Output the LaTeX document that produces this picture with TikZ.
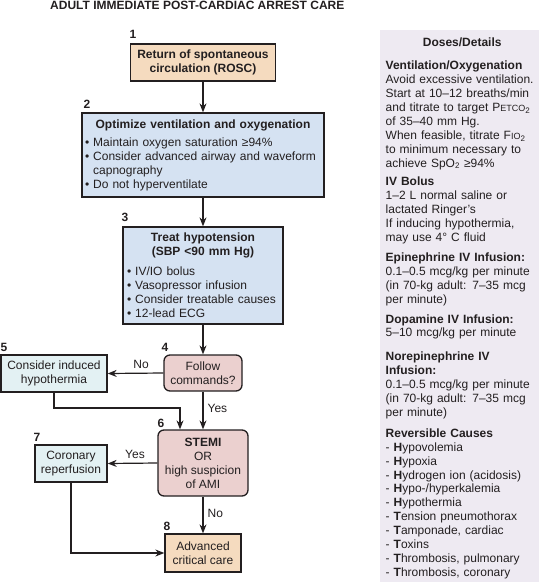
\documentclass[tikz,border=0pt]{standalone}
\usepackage{fontspec}
\setmainfont{Liberation Sans}
\usetikzlibrary{arrows.meta}
\definecolor{tanc}{HTML}{F5DBBF}
\definecolor{bluec}{HTML}{D5E2F2}
\definecolor{pinkc}{HTML}{EBD0CF}
\definecolor{cyanc}{HTML}{E3F1F3}
\definecolor{panelc}{HTML}{EEEAF2}
\definecolor{linec}{HTML}{231F20}
\newcommand{\smcap}[1]{{\fontsize{9}{9}\selectfont #1}}
\newcommand{\bul}{\textbullet~}
\newcommand{\bulsp}{\phantom{\textbullet~}}
\hyphenpenalty=10000
\exhyphenpenalty=10000
\begin{document}
\begin{tikzpicture}[x=1pt,y=-1pt,
  every node/.style={font=\fontsize{12}{14}\selectfont, text=linec},
  box/.style={draw=linec, line width=1.3pt, inner sep=0pt, align=center},
  rbox/.style={box, rounded corners=6pt},
  arr/.style={draw=linec, line width=1.2pt, -{Stealth[length=9pt,width=7pt]}},
  num/.style={font=\fontsize{12}{14}\selectfont\bfseries, inner sep=0pt},
  lbl/.style={inner sep=0pt}]
\useasboundingbox (0,0) rectangle (539,582);

% title
\node[font=\fontsize{12}{14}\selectfont\bfseries, anchor=north west, inner sep=0pt] (title) at (50,1) {ADULT IMMEDIATE POST-CARDIAC ARREST CARE};

% right panel
\node[fill=panelc, anchor=north west, minimum width=159, minimum height=552, inner sep=0pt] (panel) at (380,30) {};
\node[anchor=north west, inner sep=0pt, text width=153, align=left,
      font=\fontsize{12}{13.9}\selectfont] (details) at (385.5,38) {%
\lineskiplimit=-20pt
{\centering\bfseries Doses/Details\par}
\vspace{9pt}
{\bfseries Ventilation/Oxygenation}\\
Avoid excessive ventilation.\\
Start at 10–12 breaths/min\\
and titrate to target P\smcap{ETCO}\textsubscript{2}\\
of 35–40 mm Hg.\\
When feasible, titrate F\smcap{IO}\textsubscript{2}\\
to minimum necessary to\\
achieve SpO\textsubscript{2} ≥94\%\par
\vspace{5pt}
{\bfseries IV Bolus}\\
1–2 L normal saline or\\
lactated Ringer’s\\
If inducing hypothermia,\\
may use 4° C fluid\par
\vspace{6pt}
{\bfseries Epinephrine IV Infusion:}\\
0.1–0.5 mcg/kg per minute\\
(in 70-kg adult: 7–35 mcg\\
per minute)\par
\vspace{6pt}
{\bfseries Dopamine IV Infusion:}\\
5–10 mcg/kg per minute\par
\vspace{10pt}
{\bfseries Norepinephrine IV}\\
{\bfseries Infusion:}\\
0.1–0.5 mcg/kg per minute\\
(in 70-kg adult: 7–35 mcg\\
per minute)\par
\vspace{7pt}
{\bfseries Reversible Causes}\\
- \textbf{H}ypovolemia\\
- \textbf{H}ypoxia\\
- \textbf{H}ydrogen ion (acidosis)\\
- \textbf{H}ypo-/hyperkalemia\\
- \textbf{H}ypothermia\\
- \textbf{T}ension pneumothorax\\
- \textbf{T}amponade, cardiac\\
- \textbf{T}oxins\\
- \textbf{T}hrombosis, pulmonary\\
- \textbf{T}hrombosis, coronary\par};

% boxes
\node[box, fill=tanc, minimum width=145, minimum height=37, font=\fontsize{12}{14}\selectfont\bfseries] (b1) at (203,62.5)
  {Return of spontaneous\\circulation (ROSC)};
\node[box, fill=bluec, minimum width=242, minimum height=84, text width=236, align=left] (b2) at (203,155) {%
  {\centering\bfseries Optimize ventilation and oxygenation\par}\vspace{4pt}
  \bul Maintain oxygen saturation ≥94\%\\
  \bul Consider advanced airway and waveform\\
  \bulsp capnography\\
  \bul Do not hyperventilate};
\node[box, fill=bluec, minimum width=160, minimum height=97, text width=152, align=left] (b3) at (203,275.5) {%
  {\centering\bfseries Treat hypotension\\(SBP <90 mm Hg)\par}\vspace{6pt}
  \bul IV/IO bolus\\
  \bul Vasopressor infusion\\
  \bul Consider treatable causes\\
  \bul 12-lead ECG};
\node[rbox, fill=pinkc, minimum width=78, minimum height=36] (b4) at (203,373) {Follow\\commands?};
\node[box, fill=cyanc, minimum width=106, minimum height=37] (b5) at (54,373.5) {Consider induced\\hypothermia};
\node[rbox, fill=pinkc, minimum width=90, minimum height=66] (b6) at (203,463) {\textbf{STEMI}\\OR\\high suspicion\\of AMI};
\node[box, fill=cyanc, minimum width=72, minimum height=37] (b7) at (71,463.5) {Coronary\\reperfusion};
\node[box, fill=tanc, minimum width=76, minimum height=38] (b8) at (203,553) {Advanced\\critical care};

% numbers
\node[num] (n1) at (133,34) {1};
\node[num] (n2) at (87,104) {2};
\node[num] (n3) at (125,217) {3};
\node[num] (n4) at (165,347) {4};
\node[num] (n5) at (4,347) {5};
\node[num] (n6) at (161,423) {6};
\node[num] (n7) at (37,437) {7};
\node[num] (n8) at (167,526) {8};

% connectors
\coordinate (c56b) at (180,408);
\draw[arr] (b1.south) -- (b2.north);
\draw[arr] (b2.south) -- (b3.north);
\draw[arr] (b3.south) -- (b4.north);
\draw[arr] (b4.west) -- node[lbl, above=4pt, pos=0.4] (no1) {No} (b5.east);
\draw[arr] (b4.south) -- node[lbl, right=4pt, pos=0.45] (yes1) {Yes} (b6.north);
\draw[arr] (b5.south) |- (c56b) -- (c56b |- b6.north);
\draw[arr] (b6.west) -- node[lbl, above=4pt, pos=0.45] (yes2) {Yes} (b7.east);
\draw[arr] (b6.south) -- node[lbl, right=4pt, pos=0.45] (no2) {No} (b8.north);
\draw[arr] (b7.south) |- (b8.west);
\end{tikzpicture}
\end{document}
